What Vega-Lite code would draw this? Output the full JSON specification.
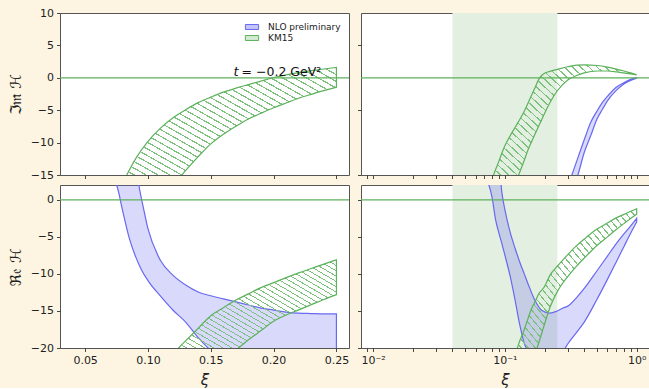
{
  "$schema": "https://vega.github.io/schema/vega-lite/v6.json",
  "background": "#fdf5e2",
  "padding": {"left": 7, "top": 6, "right": 0, "bottom": 0},
  "config": {
    "view": {"fill": "white", "stroke": "#555555", "strokeWidth": 1},
    "axis": {"labelFont": "DejaVu Sans", "labelFontSize": 11, "labelColor": "#222222", "labelOverlap": false, "domain": false, "ticks": true, "tickColor": "#333333", "tickSize": 3.5, "tickWidth": 0.9, "grid": false, "titleFont": "DejaVu Sans", "titleFontWeight": "normal", "titleColor": "#222222", "labelPadding": 3},
    "legend": {"labelFont": "DejaVu Sans", "labelFontSize": 9, "labelColor": "#222222"}
  },
  "datasets": {
    "tl_green": [
      {"x":0.08,"lo":-17,"hi":-16.2},{"x":0.09,"lo":-17,"hi":-12.55},{"x":0.10,"lo":-17,"hi":-9.8},{"x":0.11,"lo":-17,"hi":-7.76},{"x":0.12,"lo":-16.5,"hi":-6.16},{"x":0.13,"lo":-14.3,"hi":-4.92},{"x":0.14,"lo":-12.17,"hi":-3.83},{"x":0.15,"lo":-10.2,"hi":-2.99},{"x":0.16,"lo":-8.7,"hi":-2.22},{"x":0.17,"lo":-7.46,"hi":-1.6},{"x":0.18,"lo":-6.35,"hi":-1.05},{"x":0.19,"lo":-5.47,"hi":-0.5},{"x":0.20,"lo":-4.63,"hi":0.05},{"x":0.21,"lo":-3.88,"hi":0.45},{"x":0.22,"lo":-3.15,"hi":0.8},{"x":0.23,"lo":-2.55,"hi":1.1},{"x":0.24,"lo":-1.99,"hi":1.36},{"x":0.25,"lo":-1.45,"hi":1.6}
    ],
    "legend_items": [
      {"x": 0.0, "lo": 0, "series": "NLO preliminary"},
      {"x": 0.0, "lo": 0, "series": "KM15"}
    ],
    "tr_green": [
      {"x":0.075,"lo":-19,"hi":-18.5},{"x":0.08,"lo":-19,"hi":-15.8},{"x":0.09,"lo":-19,"hi":-12.9},{"x":0.10,"lo":-19,"hi":-10.5},{"x":0.11,"lo":-18.5,"hi":-8.9},{"x":0.12,"lo":-16.3,"hi":-7.6},{"x":0.13,"lo":-14.5,"hi":-6.4},{"x":0.14,"lo":-12.8,"hi":-5.2},{"x":0.15,"lo":-11.1,"hi":-3.9},{"x":0.16,"lo":-9.8,"hi":-2.6},{"x":0.17,"lo":-8.6,"hi":-1.45},{"x":0.18,"lo":-7.5,"hi":-0.3},{"x":0.19,"lo":-6.5,"hi":0.35},{"x":0.20,"lo":-5.5,"hi":0.7},{"x":0.22,"lo":-3.8,"hi":1.0},{"x":0.25,"lo":-2.0,"hi":1.3},{"x":0.3,"lo":-0.35,"hi":1.7},{"x":0.35,"lo":0.35,"hi":1.95},{"x":0.4,"lo":0.75,"hi":2.0},{"x":0.5,"lo":1.05,"hi":1.9},{"x":0.6,"lo":1.05,"hi":1.65},{"x":0.7,"lo":0.92,"hi":1.35},{"x":0.8,"lo":0.75,"hi":1.05},{"x":0.9,"lo":0.6,"hi":0.75},{"x":1.0,"lo":0.45,"hi":0.45}
    ],
    "tr_blue": [
      {"x":0.3,"lo":-19.5,"hi":-16.8},{"x":0.33,"lo":-17.3,"hi":-14.4},{"x":0.36,"lo":-14.85,"hi":-12.2},{"x":0.4,"lo":-11.53,"hi":-9.56},{"x":0.45,"lo":-8.83,"hi":-6.79},{"x":0.5,"lo":-6.36,"hi":-5.14},{"x":0.55,"lo":-4.85,"hi":-3.8},{"x":0.6,"lo":-3.55,"hi":-2.85},{"x":0.7,"lo":-1.95,"hi":-1.45},{"x":0.8,"lo":-0.95,"hi":-0.75},{"x":0.9,"lo":-0.4,"hi":-0.25},{"x":1.0,"lo":-0.05,"hi":0.0}
    ],
    "bl_blue": [
      {"x":0.07,"lo":3,"hi":3.5},{"x":0.075,"lo":2.0,"hi":3.5},{"x":0.08,"lo":-1.6,"hi":3.5},{"x":0.085,"lo":-5.1,"hi":3.5},{"x":0.09,"lo":-7.6,"hi":3.5},{"x":0.095,"lo":-9.5,"hi":0.0},{"x":0.10,"lo":-10.9,"hi":-3.9},{"x":0.11,"lo":-13.0,"hi":-8.2},{"x":0.12,"lo":-14.9,"hi":-10.2},{"x":0.13,"lo":-16.5,"hi":-11.5},{"x":0.14,"lo":-18.6,"hi":-12.44},{"x":0.15,"lo":-20.3,"hi":-12.95},{"x":0.16,"lo":-21,"hi":-13.37},{"x":0.17,"lo":-21,"hi":-13.78},{"x":0.18,"lo":-21,"hi":-14.2},{"x":0.19,"lo":-21,"hi":-14.62},{"x":0.20,"lo":-21,"hi":-14.88},{"x":0.21,"lo":-21,"hi":-15.15},{"x":0.22,"lo":-21,"hi":-15.3},{"x":0.23,"lo":-21,"hi":-15.35},{"x":0.24,"lo":-21,"hi":-15.4},{"x":0.25,"lo":-21,"hi":-15.4}
    ],
    "bl_green": [
      {"x":0.12,"lo":-21,"hi":-21},{"x":0.125,"lo":-21,"hi":-19.9},{"x":0.13,"lo":-21,"hi":-19.04},{"x":0.14,"lo":-21,"hi":-17.33},{"x":0.15,"lo":-21,"hi":-15.64},{"x":0.16,"lo":-21,"hi":-14.56},{"x":0.17,"lo":-20.25,"hi":-13.53},{"x":0.18,"lo":-18.9,"hi":-12.69},{"x":0.19,"lo":-17.65,"hi":-11.85},{"x":0.20,"lo":-16.4,"hi":-11.18},{"x":0.21,"lo":-15.55,"hi":-10.5},{"x":0.22,"lo":-14.85,"hi":-9.86},{"x":0.23,"lo":-14.15,"hi":-9.27},{"x":0.24,"lo":-13.45,"hi":-8.68},{"x":0.25,"lo":-12.8,"hi":-8.1}
    ],
    "br_blue": [
      {"x":0.07,"lo":3,"hi":4.8},{"x":0.075,"lo":2.17,"hi":4.8},{"x":0.08,"lo":0.3,"hi":4.8},{"x":0.085,"lo":-2.66,"hi":4.8},{"x":0.09,"lo":-4.46,"hi":4.8},{"x":0.095,"lo":-5.95,"hi":0.9},{"x":0.10,"lo":-7.47,"hi":-1.33},{"x":0.11,"lo":-10.4,"hi":-4.47},{"x":0.12,"lo":-13.7,"hi":-6.63},{"x":0.13,"lo":-16.95,"hi":-8.45},{"x":0.14,"lo":-19.3,"hi":-9.96},{"x":0.15,"lo":-20.4,"hi":-11.35},{"x":0.17,"lo":-21,"hi":-13.66},{"x":0.19,"lo":-21,"hi":-14.9},{"x":0.22,"lo":-21,"hi":-15.3},{"x":0.25,"lo":-21,"hi":-15.0},{"x":0.28,"lo":-20.3,"hi":-14.55},{"x":0.3,"lo":-19.46,"hi":-14.35},{"x":0.35,"lo":-17.9,"hi":-13.2},{"x":0.4,"lo":-16.5,"hi":-11.96},{"x":0.5,"lo":-13.43,"hi":-9.57},{"x":0.6,"lo":-10.74,"hi":-7.59},{"x":0.7,"lo":-8.38,"hi":-5.92},{"x":0.8,"lo":-6.32,"hi":-4.61},{"x":0.9,"lo":-4.51,"hi":-3.52},{"x":1.0,"lo":-3.0,"hi":-2.5}
    ],
    "br_green": [
      {"x":0.11,"lo":-21.5,"hi":-21},{"x":0.12,"lo":-21.5,"hi":-20.6},{"x":0.13,"lo":-21.5,"hi":-19.0},{"x":0.14,"lo":-21.5,"hi":-17.56},{"x":0.15,"lo":-21.5,"hi":-16.0},{"x":0.16,"lo":-21.5,"hi":-14.6},{"x":0.17,"lo":-20.7,"hi":-13.7},{"x":0.18,"lo":-19.4,"hi":-12.74},{"x":0.2,"lo":-16.77,"hi":-11.7},{"x":0.22,"lo":-14.5,"hi":-10.17},{"x":0.25,"lo":-12.39,"hi":-8.96},{"x":0.3,"lo":-10.36,"hi":-7.39},{"x":0.35,"lo":-8.95,"hi":-6.19},{"x":0.4,"lo":-7.86,"hi":-5.3},{"x":0.5,"lo":-6.16,"hi":-3.95},{"x":0.6,"lo":-5.0,"hi":-3.13},{"x":0.7,"lo":-4.0,"hi":-2.44},{"x":0.8,"lo":-3.21,"hi":-1.97},{"x":0.9,"lo":-2.51,"hi":-1.55},{"x":1.0,"lo":-1.95,"hi":-1.2}
    ],
    "zeroline": [{"y": 0}],
    "zeroline_lo": [{"lo": 0}],
    "shade": [{"x0": 0.04, "x1": 0.25}],
    "note_t": [{"x": 0.1722, "lo": 0.35, "t": "t"}],
    "note_rest": [{"x": 0.1745, "lo": 0.35, "t": "= −0.2 GeV²"}]
  },
  "columns": 2,
  "spacing": {"row": 10, "column": 12},
  "bounds": "flush",
  "resolve": {"scale": {"stroke": "independent", "fill": "independent"}, "legend": {"stroke": "independent", "fill": "independent"}},
  "concat": [
    {
      "width": 289, "height": 162,
      "layer": [
        {
          "data": {"name": "tl_green"},
          "mark": {"type": "area", "clip": true, "interpolate": "monotone", "stroke": "#5cb15c", "strokeWidth": 1.2, "fillOpacity": 1,
            "fill": {"gradient": "linear", "x1": 0, "y1": 1, "x2": 1, "y2": 0, "stops": [
{"offset":0,"color":"transparent"},{"offset":0.0222,"color":"transparent"},{"offset":0.0222,"color":"#7cc27c"},{"offset":0.0278,"color":"#7cc27c"},{"offset":0.0278,"color":"transparent"},{"offset":0.05,"color":"transparent"},{"offset":0.05,"color":"#7cc27c"},{"offset":0.0556,"color":"#7cc27c"},{"offset":0.0556,"color":"transparent"},{"offset":0.0778,"color":"transparent"},{"offset":0.0778,"color":"#7cc27c"},{"offset":0.0833,"color":"#7cc27c"},{"offset":0.0833,"color":"transparent"},{"offset":0.1056,"color":"transparent"},{"offset":0.1056,"color":"#7cc27c"},{"offset":0.1111,"color":"#7cc27c"},{"offset":0.1111,"color":"transparent"},{"offset":0.1333,"color":"transparent"},{"offset":0.1333,"color":"#7cc27c"},{"offset":0.1389,"color":"#7cc27c"},{"offset":0.1389,"color":"transparent"},{"offset":0.1611,"color":"transparent"},{"offset":0.1611,"color":"#7cc27c"},{"offset":0.1667,"color":"#7cc27c"},{"offset":0.1667,"color":"transparent"},{"offset":0.1889,"color":"transparent"},{"offset":0.1889,"color":"#7cc27c"},{"offset":0.1944,"color":"#7cc27c"},{"offset":0.1944,"color":"transparent"},{"offset":0.2167,"color":"transparent"},{"offset":0.2167,"color":"#7cc27c"},{"offset":0.2222,"color":"#7cc27c"},{"offset":0.2222,"color":"transparent"},{"offset":0.2444,"color":"transparent"},{"offset":0.2444,"color":"#7cc27c"},{"offset":0.25,"color":"#7cc27c"},{"offset":0.25,"color":"transparent"},{"offset":0.2722,"color":"transparent"},{"offset":0.2722,"color":"#7cc27c"},{"offset":0.2778,"color":"#7cc27c"},{"offset":0.2778,"color":"transparent"},{"offset":0.3,"color":"transparent"},{"offset":0.3,"color":"#7cc27c"},{"offset":0.3056,"color":"#7cc27c"},{"offset":0.3056,"color":"transparent"},{"offset":0.3278,"color":"transparent"},{"offset":0.3278,"color":"#7cc27c"},{"offset":0.3333,"color":"#7cc27c"},{"offset":0.3333,"color":"transparent"},{"offset":0.3556,"color":"transparent"},{"offset":0.3556,"color":"#7cc27c"},{"offset":0.3611,"color":"#7cc27c"},{"offset":0.3611,"color":"transparent"},{"offset":0.3833,"color":"transparent"},{"offset":0.3833,"color":"#7cc27c"},{"offset":0.3889,"color":"#7cc27c"},{"offset":0.3889,"color":"transparent"},{"offset":0.4111,"color":"transparent"},{"offset":0.4111,"color":"#7cc27c"},{"offset":0.4167,"color":"#7cc27c"},{"offset":0.4167,"color":"transparent"},{"offset":0.4389,"color":"transparent"},{"offset":0.4389,"color":"#7cc27c"},{"offset":0.4444,"color":"#7cc27c"},{"offset":0.4444,"color":"transparent"},{"offset":0.4667,"color":"transparent"},{"offset":0.4667,"color":"#7cc27c"},{"offset":0.4722,"color":"#7cc27c"},{"offset":0.4722,"color":"transparent"},{"offset":0.4944,"color":"transparent"},{"offset":0.4944,"color":"#7cc27c"},{"offset":0.5,"color":"#7cc27c"},{"offset":0.5,"color":"transparent"},{"offset":0.5222,"color":"transparent"},{"offset":0.5222,"color":"#7cc27c"},{"offset":0.5278,"color":"#7cc27c"},{"offset":0.5278,"color":"transparent"},{"offset":0.55,"color":"transparent"},{"offset":0.55,"color":"#7cc27c"},{"offset":0.5556,"color":"#7cc27c"},{"offset":0.5556,"color":"transparent"},{"offset":0.5778,"color":"transparent"},{"offset":0.5778,"color":"#7cc27c"},{"offset":0.5833,"color":"#7cc27c"},{"offset":0.5833,"color":"transparent"},{"offset":0.6056,"color":"transparent"},{"offset":0.6056,"color":"#7cc27c"},{"offset":0.6111,"color":"#7cc27c"},{"offset":0.6111,"color":"transparent"},{"offset":0.6333,"color":"transparent"},{"offset":0.6333,"color":"#7cc27c"},{"offset":0.6389,"color":"#7cc27c"},{"offset":0.6389,"color":"transparent"},{"offset":0.6611,"color":"transparent"},{"offset":0.6611,"color":"#7cc27c"},{"offset":0.6667,"color":"#7cc27c"},{"offset":0.6667,"color":"transparent"},{"offset":0.6889,"color":"transparent"},{"offset":0.6889,"color":"#7cc27c"},{"offset":0.6944,"color":"#7cc27c"},{"offset":0.6944,"color":"transparent"},{"offset":0.7167,"color":"transparent"},{"offset":0.7167,"color":"#7cc27c"},{"offset":0.7222,"color":"#7cc27c"},{"offset":0.7222,"color":"transparent"},{"offset":0.7444,"color":"transparent"},{"offset":0.7444,"color":"#7cc27c"},{"offset":0.75,"color":"#7cc27c"},{"offset":0.75,"color":"transparent"},{"offset":0.7722,"color":"transparent"},{"offset":0.7722,"color":"#7cc27c"},{"offset":0.7778,"color":"#7cc27c"},{"offset":0.7778,"color":"transparent"},{"offset":0.8,"color":"transparent"},{"offset":0.8,"color":"#7cc27c"},{"offset":0.8056,"color":"#7cc27c"},{"offset":0.8056,"color":"transparent"},{"offset":0.8278,"color":"transparent"},{"offset":0.8278,"color":"#7cc27c"},{"offset":0.8333,"color":"#7cc27c"},{"offset":0.8333,"color":"transparent"},{"offset":0.8556,"color":"transparent"},{"offset":0.8556,"color":"#7cc27c"},{"offset":0.8611,"color":"#7cc27c"},{"offset":0.8611,"color":"transparent"},{"offset":0.8833,"color":"transparent"},{"offset":0.8833,"color":"#7cc27c"},{"offset":0.8889,"color":"#7cc27c"},{"offset":0.8889,"color":"transparent"},{"offset":0.9111,"color":"transparent"},{"offset":0.9111,"color":"#7cc27c"},{"offset":0.9167,"color":"#7cc27c"},{"offset":0.9167,"color":"transparent"},{"offset":0.9389,"color":"transparent"},{"offset":0.9389,"color":"#7cc27c"},{"offset":0.9444,"color":"#7cc27c"},{"offset":0.9444,"color":"transparent"},{"offset":0.9667,"color":"transparent"},{"offset":0.9667,"color":"#7cc27c"},{"offset":0.9722,"color":"#7cc27c"},{"offset":0.9722,"color":"transparent"},{"offset":0.9944,"color":"transparent"},{"offset":0.9944,"color":"#7cc27c"},{"offset":1,"color":"#7cc27c"}
            ]}},
          "encoding": {
            "x": {"field": "x", "type": "quantitative", "scale": {"domain": [0.03, 0.26], "nice": false, "zero": false}, "axis": {"values": [0.05, 0.1, 0.15, 0.2, 0.25], "labels": false, "title": null}},
            "y": {"field": "lo", "type": "quantitative", "scale": {"domain": [-15, 10], "nice": false, "zero": false}, "axis": {"values": [10, 5, 0, -5, -10, -15], "labelOverlap": false, "title": "ℑ𝔪 ℋ", "titleFontSize": 15, "titlePadding": 7}},
            "y2": {"field": "hi"}
          }
        },
        {
          "data": {"name": "zeroline_lo"},
          "mark": {"type": "rule", "color": "#5cb15c", "strokeWidth": 1.2},
          "encoding": {"y": {"field": "lo", "type": "quantitative", "scale": {"domain": [-15, 10], "nice": false, "zero": false}, "axis": {"values": [10, 5, 0, -5, -10, -15], "labelOverlap": false, "title": "ℑ𝔪 ℋ", "titleFontSize": 15, "titlePadding": 7}}}
        },
        {
          "data": {"name": "legend_items"},
          "mark": {"type": "point", "filled": true, "clip": true, "strokeWidth": 1, "opacity": 1},
          "encoding": {
            "x": {"field": "x", "type": "quantitative", "scale": {"domain": [0.03, 0.26], "nice": false, "zero": false}, "axis": {"values": [0.05, 0.1, 0.15, 0.2, 0.25], "labels": false, "title": null}},
            "y": {"field": "lo", "type": "quantitative", "scale": {"domain": [-15, 10], "nice": false, "zero": false}, "axis": {"values": [10, 5, 0, -5, -10, -15], "labelOverlap": false, "title": "ℑ𝔪 ℋ", "titleFontSize": 15, "titlePadding": 7}},
            "fill": {"field": "series", "type": "nominal", "scale": {"domain": ["NLO preliminary", "KM15"], "range": ["#c4c4f6", "#d3ebd3"]},
              "legend": {"orient": "top-right", "title": null, "offset": 8, "symbolType": "M-1.2,-0.45H1.2V0.45H-1.2Z", "symbolSize": 121, "symbolStrokeWidth": 1, "labelOffset": 10, "rowPadding": 0}},
            "stroke": {"field": "series", "type": "nominal", "scale": {"domain": ["NLO preliminary", "KM15"], "range": ["#6868f0", "#5cb15c"]},
              "legend": {"orient": "top-right", "title": null, "offset": 8, "symbolType": "M-1.2,-0.45H1.2V0.45H-1.2Z", "symbolSize": 121, "symbolStrokeWidth": 1, "labelOffset": 10, "rowPadding": 0}}
          }
        },
        {
          "data": {"name": "note_t"},
          "mark": {"type": "text", "align": "right", "baseline": "alphabetic", "font": "DejaVu Sans", "fontStyle": "italic", "fontSize": 13, "color": "#111111"},
          "encoding": {
            "x": {"field": "x", "type": "quantitative", "scale": {"domain": [0.03, 0.26], "nice": false, "zero": false}, "axis": {"values": [0.05, 0.1, 0.15, 0.2, 0.25], "labels": false, "title": null}},
            "y": {"field": "lo", "type": "quantitative", "scale": {"domain": [-15, 10], "nice": false, "zero": false}, "axis": {"values": [10, 5, 0, -5, -10, -15], "labelOverlap": false, "title": "ℑ𝔪 ℋ", "titleFontSize": 15, "titlePadding": 7}},
            "text": {"field": "t"}
          }
        },
        {
          "data": {"name": "note_rest"},
          "mark": {"type": "text", "align": "left", "baseline": "alphabetic", "font": "DejaVu Sans", "fontSize": 12.5, "color": "#111111"},
          "encoding": {
            "x": {"field": "x", "type": "quantitative", "scale": {"domain": [0.03, 0.26], "nice": false, "zero": false}, "axis": {"values": [0.05, 0.1, 0.15, 0.2, 0.25], "labels": false, "title": null}},
            "y": {"field": "lo", "type": "quantitative", "scale": {"domain": [-15, 10], "nice": false, "zero": false}, "axis": {"values": [10, 5, 0, -5, -10, -15], "labelOverlap": false, "title": "ℑ𝔪 ℋ", "titleFontSize": 15, "titlePadding": 7}},
            "text": {"field": "t"}
          }
        }
      ]
    },
    {
      "width": 288, "height": 162,
      "layer": [
        {
          "data": {"name": "shade"},
          "mark": {"type": "rect", "color": "#e3efe1", "opacity": 1},
          "encoding": {
            "x": {"field": "x0", "type": "quantitative", "scale": {"type": "log", "domain": [0.0081, 1.24], "nice": false}, "axis": {"values": [0.009,0.01,0.02,0.03,0.04,0.05,0.06,0.07,0.08,0.09,0.1,0.2,0.3,0.4,0.5,0.6,0.7,0.8,0.9,1], "labels": false, "title": null,
              "encode": {"ticks": {"update": {"y2": {"signal": "(datum.value == 0.01 || datum.value == 0.1 || datum.value == 1) ? 3.5 : 2"}}}}}},
            "x2": {"field": "x1"}
          }
        },
        {
          "data": {"name": "tr_blue"},
          "mark": {"type": "area", "clip": true, "interpolate": "monotone", "fill": "#6868f0", "fillOpacity": 0.25, "stroke": "#6868f0", "strokeWidth": 1.2},
          "encoding": {
            "x": {"field": "x", "type": "quantitative", "scale": {"type": "log", "domain": [0.0081, 1.24], "nice": false}},
            "y": {"field": "lo", "type": "quantitative", "scale": {"domain": [-15, 10], "nice": false, "zero": false}, "axis": {"values": [10, 5, 0, -5, -10, -15], "labels": false, "title": null}},
            "y2": {"field": "hi"}
          }
        },
        {
          "data": {"name": "tr_green"},
          "mark": {"type": "area", "clip": true, "interpolate": "monotone", "stroke": "#5cb15c", "strokeWidth": 1.2, "fillOpacity": 1,
            "fill": {"gradient": "linear", "x1": 0, "y1": 1, "x2": 1, "y2": 0, "stops": [
{"offset":0,"color":"transparent"},{"offset":0.0222,"color":"transparent"},{"offset":0.0222,"color":"#7cc27c"},{"offset":0.0278,"color":"#7cc27c"},{"offset":0.0278,"color":"transparent"},{"offset":0.05,"color":"transparent"},{"offset":0.05,"color":"#7cc27c"},{"offset":0.0556,"color":"#7cc27c"},{"offset":0.0556,"color":"transparent"},{"offset":0.0778,"color":"transparent"},{"offset":0.0778,"color":"#7cc27c"},{"offset":0.0833,"color":"#7cc27c"},{"offset":0.0833,"color":"transparent"},{"offset":0.1056,"color":"transparent"},{"offset":0.1056,"color":"#7cc27c"},{"offset":0.1111,"color":"#7cc27c"},{"offset":0.1111,"color":"transparent"},{"offset":0.1333,"color":"transparent"},{"offset":0.1333,"color":"#7cc27c"},{"offset":0.1389,"color":"#7cc27c"},{"offset":0.1389,"color":"transparent"},{"offset":0.1611,"color":"transparent"},{"offset":0.1611,"color":"#7cc27c"},{"offset":0.1667,"color":"#7cc27c"},{"offset":0.1667,"color":"transparent"},{"offset":0.1889,"color":"transparent"},{"offset":0.1889,"color":"#7cc27c"},{"offset":0.1944,"color":"#7cc27c"},{"offset":0.1944,"color":"transparent"},{"offset":0.2167,"color":"transparent"},{"offset":0.2167,"color":"#7cc27c"},{"offset":0.2222,"color":"#7cc27c"},{"offset":0.2222,"color":"transparent"},{"offset":0.2444,"color":"transparent"},{"offset":0.2444,"color":"#7cc27c"},{"offset":0.25,"color":"#7cc27c"},{"offset":0.25,"color":"transparent"},{"offset":0.2722,"color":"transparent"},{"offset":0.2722,"color":"#7cc27c"},{"offset":0.2778,"color":"#7cc27c"},{"offset":0.2778,"color":"transparent"},{"offset":0.3,"color":"transparent"},{"offset":0.3,"color":"#7cc27c"},{"offset":0.3056,"color":"#7cc27c"},{"offset":0.3056,"color":"transparent"},{"offset":0.3278,"color":"transparent"},{"offset":0.3278,"color":"#7cc27c"},{"offset":0.3333,"color":"#7cc27c"},{"offset":0.3333,"color":"transparent"},{"offset":0.3556,"color":"transparent"},{"offset":0.3556,"color":"#7cc27c"},{"offset":0.3611,"color":"#7cc27c"},{"offset":0.3611,"color":"transparent"},{"offset":0.3833,"color":"transparent"},{"offset":0.3833,"color":"#7cc27c"},{"offset":0.3889,"color":"#7cc27c"},{"offset":0.3889,"color":"transparent"},{"offset":0.4111,"color":"transparent"},{"offset":0.4111,"color":"#7cc27c"},{"offset":0.4167,"color":"#7cc27c"},{"offset":0.4167,"color":"transparent"},{"offset":0.4389,"color":"transparent"},{"offset":0.4389,"color":"#7cc27c"},{"offset":0.4444,"color":"#7cc27c"},{"offset":0.4444,"color":"transparent"},{"offset":0.4667,"color":"transparent"},{"offset":0.4667,"color":"#7cc27c"},{"offset":0.4722,"color":"#7cc27c"},{"offset":0.4722,"color":"transparent"},{"offset":0.4944,"color":"transparent"},{"offset":0.4944,"color":"#7cc27c"},{"offset":0.5,"color":"#7cc27c"},{"offset":0.5,"color":"transparent"},{"offset":0.5222,"color":"transparent"},{"offset":0.5222,"color":"#7cc27c"},{"offset":0.5278,"color":"#7cc27c"},{"offset":0.5278,"color":"transparent"},{"offset":0.55,"color":"transparent"},{"offset":0.55,"color":"#7cc27c"},{"offset":0.5556,"color":"#7cc27c"},{"offset":0.5556,"color":"transparent"},{"offset":0.5778,"color":"transparent"},{"offset":0.5778,"color":"#7cc27c"},{"offset":0.5833,"color":"#7cc27c"},{"offset":0.5833,"color":"transparent"},{"offset":0.6056,"color":"transparent"},{"offset":0.6056,"color":"#7cc27c"},{"offset":0.6111,"color":"#7cc27c"},{"offset":0.6111,"color":"transparent"},{"offset":0.6333,"color":"transparent"},{"offset":0.6333,"color":"#7cc27c"},{"offset":0.6389,"color":"#7cc27c"},{"offset":0.6389,"color":"transparent"},{"offset":0.6611,"color":"transparent"},{"offset":0.6611,"color":"#7cc27c"},{"offset":0.6667,"color":"#7cc27c"},{"offset":0.6667,"color":"transparent"},{"offset":0.6889,"color":"transparent"},{"offset":0.6889,"color":"#7cc27c"},{"offset":0.6944,"color":"#7cc27c"},{"offset":0.6944,"color":"transparent"},{"offset":0.7167,"color":"transparent"},{"offset":0.7167,"color":"#7cc27c"},{"offset":0.7222,"color":"#7cc27c"},{"offset":0.7222,"color":"transparent"},{"offset":0.7444,"color":"transparent"},{"offset":0.7444,"color":"#7cc27c"},{"offset":0.75,"color":"#7cc27c"},{"offset":0.75,"color":"transparent"},{"offset":0.7722,"color":"transparent"},{"offset":0.7722,"color":"#7cc27c"},{"offset":0.7778,"color":"#7cc27c"},{"offset":0.7778,"color":"transparent"},{"offset":0.8,"color":"transparent"},{"offset":0.8,"color":"#7cc27c"},{"offset":0.8056,"color":"#7cc27c"},{"offset":0.8056,"color":"transparent"},{"offset":0.8278,"color":"transparent"},{"offset":0.8278,"color":"#7cc27c"},{"offset":0.8333,"color":"#7cc27c"},{"offset":0.8333,"color":"transparent"},{"offset":0.8556,"color":"transparent"},{"offset":0.8556,"color":"#7cc27c"},{"offset":0.8611,"color":"#7cc27c"},{"offset":0.8611,"color":"transparent"},{"offset":0.8833,"color":"transparent"},{"offset":0.8833,"color":"#7cc27c"},{"offset":0.8889,"color":"#7cc27c"},{"offset":0.8889,"color":"transparent"},{"offset":0.9111,"color":"transparent"},{"offset":0.9111,"color":"#7cc27c"},{"offset":0.9167,"color":"#7cc27c"},{"offset":0.9167,"color":"transparent"},{"offset":0.9389,"color":"transparent"},{"offset":0.9389,"color":"#7cc27c"},{"offset":0.9444,"color":"#7cc27c"},{"offset":0.9444,"color":"transparent"},{"offset":0.9667,"color":"transparent"},{"offset":0.9667,"color":"#7cc27c"},{"offset":0.9722,"color":"#7cc27c"},{"offset":0.9722,"color":"transparent"},{"offset":0.9944,"color":"transparent"},{"offset":0.9944,"color":"#7cc27c"},{"offset":1,"color":"#7cc27c"}
            ]}},
          "encoding": {
            "x": {"field": "x", "type": "quantitative", "scale": {"type": "log", "domain": [0.0081, 1.24], "nice": false}},
            "y": {"field": "lo", "type": "quantitative", "scale": {"domain": [-15, 10], "nice": false, "zero": false}},
            "y2": {"field": "hi"}
          }
        },
        {
          "data": {"name": "zeroline"},
          "mark": {"type": "rule", "color": "#5cb15c", "strokeWidth": 1.2},
          "encoding": {"y": {"field": "y", "type": "quantitative", "scale": {"domain": [-15, 10], "nice": false, "zero": false}}}
        }
      ]
    },
    {
      "width": 289, "height": 163,
      "layer": [
        {
          "data": {"name": "bl_blue"},
          "mark": {"type": "area", "clip": true, "interpolate": "monotone", "fill": "#6868f0", "fillOpacity": 0.25, "stroke": "#6868f0", "strokeWidth": 1.2},
          "encoding": {
            "x": {"field": "x", "type": "quantitative", "scale": {"domain": [0.03, 0.26], "nice": false, "zero": false}, "axis": {"values": [0.05, 0.1, 0.15, 0.2, 0.25], "format": ".2f", "labelOverlap": false, "title": "ξ", "titleFontStyle": "italic", "titleFontSize": 15, "titlePadding": 7}},
            "y": {"field": "lo", "type": "quantitative", "scale": {"domain": [-20, 2], "nice": false, "zero": false}, "axis": {"values": [0, -5, -10, -15, -20], "labelOverlap": false, "title": "ℜ𝔢 ℋ", "titleFontSize": 15, "titlePadding": 7}},
            "y2": {"field": "hi"}
          }
        },
        {
          "data": {"name": "bl_green"},
          "mark": {"type": "area", "clip": true, "interpolate": "monotone", "stroke": "#5cb15c", "strokeWidth": 1.2, "fillOpacity": 1,
            "fill": {"gradient": "linear", "x1": 0, "y1": 1, "x2": 1, "y2": 0, "stops": [
{"offset":0,"color":"transparent"},{"offset":0.0222,"color":"transparent"},{"offset":0.0222,"color":"#7cc27c"},{"offset":0.0278,"color":"#7cc27c"},{"offset":0.0278,"color":"transparent"},{"offset":0.05,"color":"transparent"},{"offset":0.05,"color":"#7cc27c"},{"offset":0.0556,"color":"#7cc27c"},{"offset":0.0556,"color":"transparent"},{"offset":0.0778,"color":"transparent"},{"offset":0.0778,"color":"#7cc27c"},{"offset":0.0833,"color":"#7cc27c"},{"offset":0.0833,"color":"transparent"},{"offset":0.1056,"color":"transparent"},{"offset":0.1056,"color":"#7cc27c"},{"offset":0.1111,"color":"#7cc27c"},{"offset":0.1111,"color":"transparent"},{"offset":0.1333,"color":"transparent"},{"offset":0.1333,"color":"#7cc27c"},{"offset":0.1389,"color":"#7cc27c"},{"offset":0.1389,"color":"transparent"},{"offset":0.1611,"color":"transparent"},{"offset":0.1611,"color":"#7cc27c"},{"offset":0.1667,"color":"#7cc27c"},{"offset":0.1667,"color":"transparent"},{"offset":0.1889,"color":"transparent"},{"offset":0.1889,"color":"#7cc27c"},{"offset":0.1944,"color":"#7cc27c"},{"offset":0.1944,"color":"transparent"},{"offset":0.2167,"color":"transparent"},{"offset":0.2167,"color":"#7cc27c"},{"offset":0.2222,"color":"#7cc27c"},{"offset":0.2222,"color":"transparent"},{"offset":0.2444,"color":"transparent"},{"offset":0.2444,"color":"#7cc27c"},{"offset":0.25,"color":"#7cc27c"},{"offset":0.25,"color":"transparent"},{"offset":0.2722,"color":"transparent"},{"offset":0.2722,"color":"#7cc27c"},{"offset":0.2778,"color":"#7cc27c"},{"offset":0.2778,"color":"transparent"},{"offset":0.3,"color":"transparent"},{"offset":0.3,"color":"#7cc27c"},{"offset":0.3056,"color":"#7cc27c"},{"offset":0.3056,"color":"transparent"},{"offset":0.3278,"color":"transparent"},{"offset":0.3278,"color":"#7cc27c"},{"offset":0.3333,"color":"#7cc27c"},{"offset":0.3333,"color":"transparent"},{"offset":0.3556,"color":"transparent"},{"offset":0.3556,"color":"#7cc27c"},{"offset":0.3611,"color":"#7cc27c"},{"offset":0.3611,"color":"transparent"},{"offset":0.3833,"color":"transparent"},{"offset":0.3833,"color":"#7cc27c"},{"offset":0.3889,"color":"#7cc27c"},{"offset":0.3889,"color":"transparent"},{"offset":0.4111,"color":"transparent"},{"offset":0.4111,"color":"#7cc27c"},{"offset":0.4167,"color":"#7cc27c"},{"offset":0.4167,"color":"transparent"},{"offset":0.4389,"color":"transparent"},{"offset":0.4389,"color":"#7cc27c"},{"offset":0.4444,"color":"#7cc27c"},{"offset":0.4444,"color":"transparent"},{"offset":0.4667,"color":"transparent"},{"offset":0.4667,"color":"#7cc27c"},{"offset":0.4722,"color":"#7cc27c"},{"offset":0.4722,"color":"transparent"},{"offset":0.4944,"color":"transparent"},{"offset":0.4944,"color":"#7cc27c"},{"offset":0.5,"color":"#7cc27c"},{"offset":0.5,"color":"transparent"},{"offset":0.5222,"color":"transparent"},{"offset":0.5222,"color":"#7cc27c"},{"offset":0.5278,"color":"#7cc27c"},{"offset":0.5278,"color":"transparent"},{"offset":0.55,"color":"transparent"},{"offset":0.55,"color":"#7cc27c"},{"offset":0.5556,"color":"#7cc27c"},{"offset":0.5556,"color":"transparent"},{"offset":0.5778,"color":"transparent"},{"offset":0.5778,"color":"#7cc27c"},{"offset":0.5833,"color":"#7cc27c"},{"offset":0.5833,"color":"transparent"},{"offset":0.6056,"color":"transparent"},{"offset":0.6056,"color":"#7cc27c"},{"offset":0.6111,"color":"#7cc27c"},{"offset":0.6111,"color":"transparent"},{"offset":0.6333,"color":"transparent"},{"offset":0.6333,"color":"#7cc27c"},{"offset":0.6389,"color":"#7cc27c"},{"offset":0.6389,"color":"transparent"},{"offset":0.6611,"color":"transparent"},{"offset":0.6611,"color":"#7cc27c"},{"offset":0.6667,"color":"#7cc27c"},{"offset":0.6667,"color":"transparent"},{"offset":0.6889,"color":"transparent"},{"offset":0.6889,"color":"#7cc27c"},{"offset":0.6944,"color":"#7cc27c"},{"offset":0.6944,"color":"transparent"},{"offset":0.7167,"color":"transparent"},{"offset":0.7167,"color":"#7cc27c"},{"offset":0.7222,"color":"#7cc27c"},{"offset":0.7222,"color":"transparent"},{"offset":0.7444,"color":"transparent"},{"offset":0.7444,"color":"#7cc27c"},{"offset":0.75,"color":"#7cc27c"},{"offset":0.75,"color":"transparent"},{"offset":0.7722,"color":"transparent"},{"offset":0.7722,"color":"#7cc27c"},{"offset":0.7778,"color":"#7cc27c"},{"offset":0.7778,"color":"transparent"},{"offset":0.8,"color":"transparent"},{"offset":0.8,"color":"#7cc27c"},{"offset":0.8056,"color":"#7cc27c"},{"offset":0.8056,"color":"transparent"},{"offset":0.8278,"color":"transparent"},{"offset":0.8278,"color":"#7cc27c"},{"offset":0.8333,"color":"#7cc27c"},{"offset":0.8333,"color":"transparent"},{"offset":0.8556,"color":"transparent"},{"offset":0.8556,"color":"#7cc27c"},{"offset":0.8611,"color":"#7cc27c"},{"offset":0.8611,"color":"transparent"},{"offset":0.8833,"color":"transparent"},{"offset":0.8833,"color":"#7cc27c"},{"offset":0.8889,"color":"#7cc27c"},{"offset":0.8889,"color":"transparent"},{"offset":0.9111,"color":"transparent"},{"offset":0.9111,"color":"#7cc27c"},{"offset":0.9167,"color":"#7cc27c"},{"offset":0.9167,"color":"transparent"},{"offset":0.9389,"color":"transparent"},{"offset":0.9389,"color":"#7cc27c"},{"offset":0.9444,"color":"#7cc27c"},{"offset":0.9444,"color":"transparent"},{"offset":0.9667,"color":"transparent"},{"offset":0.9667,"color":"#7cc27c"},{"offset":0.9722,"color":"#7cc27c"},{"offset":0.9722,"color":"transparent"},{"offset":0.9944,"color":"transparent"},{"offset":0.9944,"color":"#7cc27c"},{"offset":1,"color":"#7cc27c"}
            ]}},
          "encoding": {
            "x": {"field": "x", "type": "quantitative", "scale": {"domain": [0.03, 0.26], "nice": false, "zero": false}},
            "y": {"field": "lo", "type": "quantitative", "scale": {"domain": [-20, 2], "nice": false, "zero": false}},
            "y2": {"field": "hi"}
          }
        },
        {
          "data": {"name": "zeroline"},
          "mark": {"type": "rule", "color": "#5cb15c", "strokeWidth": 1.2},
          "encoding": {"y": {"field": "y", "type": "quantitative", "scale": {"domain": [-20, 2], "nice": false, "zero": false}}}
        }
      ]
    },
    {
      "width": 288, "height": 163,
      "layer": [
        {
          "data": {"name": "shade"},
          "mark": {"type": "rect", "color": "#e3efe1", "opacity": 1},
          "encoding": {
            "x": {"field": "x0", "type": "quantitative", "scale": {"type": "log", "domain": [0.0081, 1.24], "nice": false}, "axis": {"values": [0.009,0.01,0.02,0.03,0.04,0.05,0.06,0.07,0.08,0.09,0.1,0.2,0.3,0.4,0.5,0.6,0.7,0.8,0.9,1], "labelOverlap": false, "title": "ξ", "titleFontStyle": "italic", "titleFontSize": 15, "titlePadding": 7,
              "labelExpr": "datum.value == 0.01 ? '10⁻²' : datum.value == 0.1 ? '10⁻¹' : datum.value == 1 ? '10⁰' : ''",
              "encode": {"ticks": {"update": {"y2": {"signal": "(datum.value == 0.01 || datum.value == 0.1 || datum.value == 1) ? 3.5 : 2"}}}}}},
            "x2": {"field": "x1"}
          }
        },
        {
          "data": {"name": "br_blue"},
          "mark": {"type": "area", "clip": true, "interpolate": "monotone", "fill": "#6868f0", "fillOpacity": 0.25, "stroke": "#6868f0", "strokeWidth": 1.2},
          "encoding": {
            "x": {"field": "x", "type": "quantitative", "scale": {"type": "log", "domain": [0.0081, 1.24], "nice": false}},
            "y": {"field": "lo", "type": "quantitative", "scale": {"domain": [-20, 2], "nice": false, "zero": false}, "axis": {"values": [0, -5, -10, -15, -20], "labels": false, "title": null}},
            "y2": {"field": "hi"}
          }
        },
        {
          "data": {"name": "br_green"},
          "mark": {"type": "area", "clip": true, "interpolate": "monotone", "stroke": "#5cb15c", "strokeWidth": 1.2, "fillOpacity": 1,
            "fill": {"gradient": "linear", "x1": 0, "y1": 1, "x2": 1, "y2": 0, "stops": [
{"offset":0,"color":"transparent"},{"offset":0.0222,"color":"transparent"},{"offset":0.0222,"color":"#7cc27c"},{"offset":0.0278,"color":"#7cc27c"},{"offset":0.0278,"color":"transparent"},{"offset":0.05,"color":"transparent"},{"offset":0.05,"color":"#7cc27c"},{"offset":0.0556,"color":"#7cc27c"},{"offset":0.0556,"color":"transparent"},{"offset":0.0778,"color":"transparent"},{"offset":0.0778,"color":"#7cc27c"},{"offset":0.0833,"color":"#7cc27c"},{"offset":0.0833,"color":"transparent"},{"offset":0.1056,"color":"transparent"},{"offset":0.1056,"color":"#7cc27c"},{"offset":0.1111,"color":"#7cc27c"},{"offset":0.1111,"color":"transparent"},{"offset":0.1333,"color":"transparent"},{"offset":0.1333,"color":"#7cc27c"},{"offset":0.1389,"color":"#7cc27c"},{"offset":0.1389,"color":"transparent"},{"offset":0.1611,"color":"transparent"},{"offset":0.1611,"color":"#7cc27c"},{"offset":0.1667,"color":"#7cc27c"},{"offset":0.1667,"color":"transparent"},{"offset":0.1889,"color":"transparent"},{"offset":0.1889,"color":"#7cc27c"},{"offset":0.1944,"color":"#7cc27c"},{"offset":0.1944,"color":"transparent"},{"offset":0.2167,"color":"transparent"},{"offset":0.2167,"color":"#7cc27c"},{"offset":0.2222,"color":"#7cc27c"},{"offset":0.2222,"color":"transparent"},{"offset":0.2444,"color":"transparent"},{"offset":0.2444,"color":"#7cc27c"},{"offset":0.25,"color":"#7cc27c"},{"offset":0.25,"color":"transparent"},{"offset":0.2722,"color":"transparent"},{"offset":0.2722,"color":"#7cc27c"},{"offset":0.2778,"color":"#7cc27c"},{"offset":0.2778,"color":"transparent"},{"offset":0.3,"color":"transparent"},{"offset":0.3,"color":"#7cc27c"},{"offset":0.3056,"color":"#7cc27c"},{"offset":0.3056,"color":"transparent"},{"offset":0.3278,"color":"transparent"},{"offset":0.3278,"color":"#7cc27c"},{"offset":0.3333,"color":"#7cc27c"},{"offset":0.3333,"color":"transparent"},{"offset":0.3556,"color":"transparent"},{"offset":0.3556,"color":"#7cc27c"},{"offset":0.3611,"color":"#7cc27c"},{"offset":0.3611,"color":"transparent"},{"offset":0.3833,"color":"transparent"},{"offset":0.3833,"color":"#7cc27c"},{"offset":0.3889,"color":"#7cc27c"},{"offset":0.3889,"color":"transparent"},{"offset":0.4111,"color":"transparent"},{"offset":0.4111,"color":"#7cc27c"},{"offset":0.4167,"color":"#7cc27c"},{"offset":0.4167,"color":"transparent"},{"offset":0.4389,"color":"transparent"},{"offset":0.4389,"color":"#7cc27c"},{"offset":0.4444,"color":"#7cc27c"},{"offset":0.4444,"color":"transparent"},{"offset":0.4667,"color":"transparent"},{"offset":0.4667,"color":"#7cc27c"},{"offset":0.4722,"color":"#7cc27c"},{"offset":0.4722,"color":"transparent"},{"offset":0.4944,"color":"transparent"},{"offset":0.4944,"color":"#7cc27c"},{"offset":0.5,"color":"#7cc27c"},{"offset":0.5,"color":"transparent"},{"offset":0.5222,"color":"transparent"},{"offset":0.5222,"color":"#7cc27c"},{"offset":0.5278,"color":"#7cc27c"},{"offset":0.5278,"color":"transparent"},{"offset":0.55,"color":"transparent"},{"offset":0.55,"color":"#7cc27c"},{"offset":0.5556,"color":"#7cc27c"},{"offset":0.5556,"color":"transparent"},{"offset":0.5778,"color":"transparent"},{"offset":0.5778,"color":"#7cc27c"},{"offset":0.5833,"color":"#7cc27c"},{"offset":0.5833,"color":"transparent"},{"offset":0.6056,"color":"transparent"},{"offset":0.6056,"color":"#7cc27c"},{"offset":0.6111,"color":"#7cc27c"},{"offset":0.6111,"color":"transparent"},{"offset":0.6333,"color":"transparent"},{"offset":0.6333,"color":"#7cc27c"},{"offset":0.6389,"color":"#7cc27c"},{"offset":0.6389,"color":"transparent"},{"offset":0.6611,"color":"transparent"},{"offset":0.6611,"color":"#7cc27c"},{"offset":0.6667,"color":"#7cc27c"},{"offset":0.6667,"color":"transparent"},{"offset":0.6889,"color":"transparent"},{"offset":0.6889,"color":"#7cc27c"},{"offset":0.6944,"color":"#7cc27c"},{"offset":0.6944,"color":"transparent"},{"offset":0.7167,"color":"transparent"},{"offset":0.7167,"color":"#7cc27c"},{"offset":0.7222,"color":"#7cc27c"},{"offset":0.7222,"color":"transparent"},{"offset":0.7444,"color":"transparent"},{"offset":0.7444,"color":"#7cc27c"},{"offset":0.75,"color":"#7cc27c"},{"offset":0.75,"color":"transparent"},{"offset":0.7722,"color":"transparent"},{"offset":0.7722,"color":"#7cc27c"},{"offset":0.7778,"color":"#7cc27c"},{"offset":0.7778,"color":"transparent"},{"offset":0.8,"color":"transparent"},{"offset":0.8,"color":"#7cc27c"},{"offset":0.8056,"color":"#7cc27c"},{"offset":0.8056,"color":"transparent"},{"offset":0.8278,"color":"transparent"},{"offset":0.8278,"color":"#7cc27c"},{"offset":0.8333,"color":"#7cc27c"},{"offset":0.8333,"color":"transparent"},{"offset":0.8556,"color":"transparent"},{"offset":0.8556,"color":"#7cc27c"},{"offset":0.8611,"color":"#7cc27c"},{"offset":0.8611,"color":"transparent"},{"offset":0.8833,"color":"transparent"},{"offset":0.8833,"color":"#7cc27c"},{"offset":0.8889,"color":"#7cc27c"},{"offset":0.8889,"color":"transparent"},{"offset":0.9111,"color":"transparent"},{"offset":0.9111,"color":"#7cc27c"},{"offset":0.9167,"color":"#7cc27c"},{"offset":0.9167,"color":"transparent"},{"offset":0.9389,"color":"transparent"},{"offset":0.9389,"color":"#7cc27c"},{"offset":0.9444,"color":"#7cc27c"},{"offset":0.9444,"color":"transparent"},{"offset":0.9667,"color":"transparent"},{"offset":0.9667,"color":"#7cc27c"},{"offset":0.9722,"color":"#7cc27c"},{"offset":0.9722,"color":"transparent"},{"offset":0.9944,"color":"transparent"},{"offset":0.9944,"color":"#7cc27c"},{"offset":1,"color":"#7cc27c"}
            ]}},
          "encoding": {
            "x": {"field": "x", "type": "quantitative", "scale": {"type": "log", "domain": [0.0081, 1.24], "nice": false}},
            "y": {"field": "lo", "type": "quantitative", "scale": {"domain": [-20, 2], "nice": false, "zero": false}},
            "y2": {"field": "hi"}
          }
        },
        {
          "data": {"name": "zeroline"},
          "mark": {"type": "rule", "color": "#5cb15c", "strokeWidth": 1.2},
          "encoding": {"y": {"field": "y", "type": "quantitative", "scale": {"domain": [-20, 2], "nice": false, "zero": false}}}
        }
      ]
    }
  ]
}
